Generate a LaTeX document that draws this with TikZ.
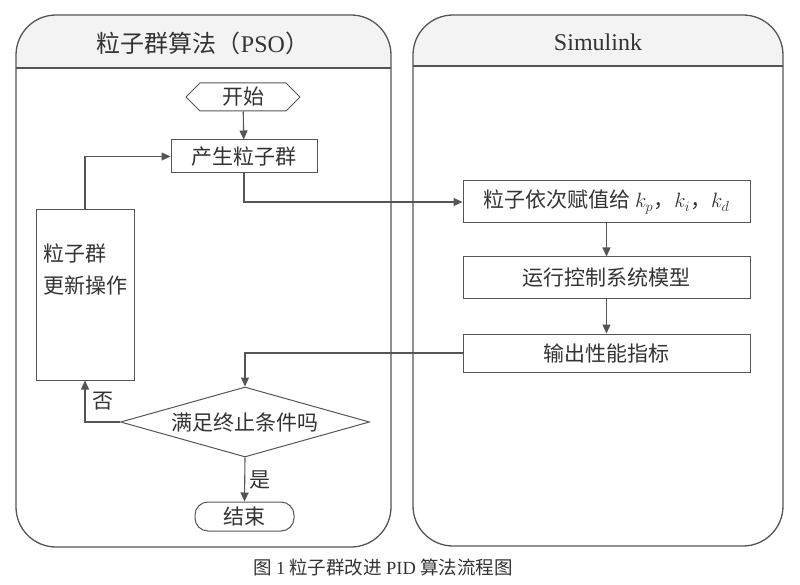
\documentclass[tikz,border=0pt]{standalone}
\usepackage{fontspec}
\setmainfont{Liberation Serif}
\newfontfamily\cjk{Noto Sans CJK SC}
\usetikzlibrary{shapes.geometric,shapes.symbols,arrows.meta}
\definecolor{linegray}{HTML}{555555}
\definecolor{textgray}{HTML}{333333}
\definecolor{headgray}{HTML}{F3F3F3}

\begin{document}
\begin{tikzpicture}[x=1pt, y=-1pt,
    every node/.style={font=\cjk\fontsize{21}{32}\selectfont, text=textgray},
    lane/.style={draw=linegray, line width=1.3pt, rounded corners=40pt},
    box/.style={draw=linegray, line width=1pt, rectangle, inner sep=0pt},
    flow/.style={draw=linegray, line width=1.1pt, -{Triangle[length=9pt,width=8pt]}}]
  \useasboundingbox (0,0) rectangle (800,585);
  % Lane headers
  \begin{scope}
    \clip[rounded corners=40pt] (16,15) rectangle (391,547);
    \fill[headgray] (16,15) rectangle (391,68);
  \end{scope}
  \begin{scope}
    \clip[rounded corners=40pt] (413,15) rectangle (783,546);
    \fill[headgray] (413,15) rectangle (783,66);
  \end{scope}
  % Lanes
  \draw[lane] (16,15) rectangle (391,547);
  \draw[lane] (413,15) rectangle (783,546);
  \draw[draw=linegray, line width=1.3pt] (16,68) -- (391,68);
  \draw[draw=linegray, line width=1.3pt] (413,66) -- (783,66);
  \node (psotitle) at (203,43) {\fontsize{24}{28}\selectfont 粒子群算法（{\rmfamily PSO}）};
  \node (simtitle) at (598,42) {\rmfamily\fontsize{24}{28}\selectfont Simulink};

  % PSO side
  \node (start) [box, shape=signal, signal to=west and east, signal pointer angle=90,
    minimum width=114pt, minimum height=28pt] at (243,97) {开始};
  \node (gen) [box, minimum width=146pt, minimum height=33pt] at (244,156.5) {产生粒子群};
  \node (update) [box, minimum width=98pt, minimum height=170pt, align=left,
    text depth=52pt] at (85,295) {粒子群\\更新操作};
  \node (decide) [box, shape=diamond, aspect=3.5, minimum width=249pt,
    minimum height=70pt] at (245,422) {满足终止条件吗};
  \node (stop) [box, rounded corners=13pt, minimum width=99pt, minimum height=29pt]
    at (244.5,516.5) {结束};

  % Simulink side
  \node (assign) [box, minimum width=287pt, minimum height=42pt] at (606.5,202)
    {粒子依次赋值给 $k_p$，$k_i$，$k_d$};
  \node (run) [box, minimum width=287pt, minimum height=41pt] at (606.5,277.5) {运行控制系统模型};
  \node (output) [box, minimum width=287pt, minimum height=38pt] at (606.5,353) {输出性能指标};

  % Connectors
  \draw[flow] (start) -- (gen);
  \draw[flow] (gen.south) |- (assign.west);
  \draw[flow] (assign) -- (run);
  \draw[flow] (run) -- (output);
  \draw[flow] (output.west) -| (decide.north);
  \draw[flow] (decide.west) -| node[pos=0.75, right=4pt] {否} (update.south);
  \draw[flow] (decide.south) -- node[right=1pt] {是} (stop.north);
  \draw[flow] (update.north) |- (gen.west);

  % Caption
  \node (caption) at (383,567) {\fontsize{18.5}{22}\selectfont 图 {\rmfamily 1} 粒子群改进 {\rmfamily PID} 算法流程图};
\end{tikzpicture}
\end{document}
